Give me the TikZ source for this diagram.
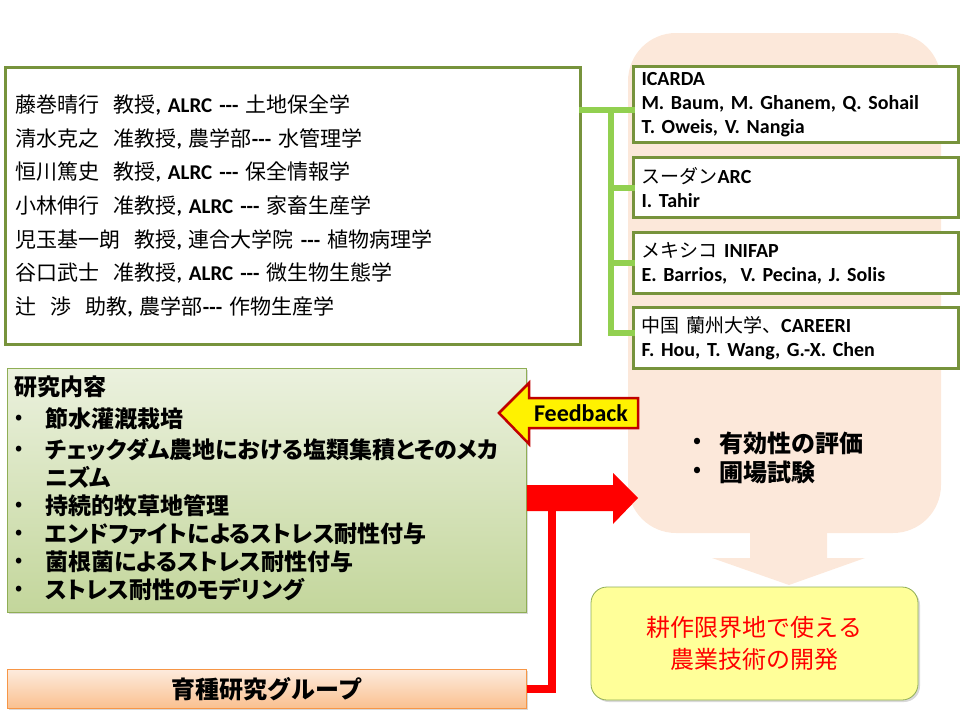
\documentclass[tikz,border=0pt]{standalone}
\usepackage{fontspec}
\setmainfont{Carlito}
\newfontfamily\jp{Noto Sans CJK JP}
\newfontfamily\jpp[RawFeature=+palt]{Noto Sans CJK JP}
\newfontfamily\calib{Carlito}
\usetikzlibrary{shadows,calc}
\definecolor{olive}{HTML}{77933C}
\definecolor{lgreen}{HTML}{92D050}
\definecolor{peach}{HTML}{FCE8DA}
\definecolor{rcTop}{HTML}{EBF1DE}
\definecolor{rcBot}{HTML}{C3D69B}
\definecolor{rcLine}{HTML}{8FAE55}
\definecolor{brTop}{HTML}{FDEBDD}
\definecolor{brBot}{HTML}{FAC08F}
\definecolor{brLine}{HTML}{F79646}
\definecolor{ylw}{HTML}{FFFF99}
\definecolor{dred}{HTML}{C00000}
\definecolor{pred}{HTML}{FF0000}
\newcommand\lt[1]{{\calib\bfseries #1}}
\newcommand\fsz[2]{\fontsize{#1}{#2}\selectfont}
\begin{document}
\begin{tikzpicture}[x=1pt,y=-1pt,
  gbox/.style={draw=olive, line width=3pt, fill=white, anchor=north west, align=left, inner xsep=10pt},
  gline/.style={draw=lgreen, line width=6pt, line cap=rect},
  shd/.style={drop shadow={shadow xshift=2pt, shadow yshift=-2pt, opacity=0.3}},
  txt/.style={anchor=west, inner sep=0pt},
]
\useasboundingbox (0,0) rectangle (960,720);
% peach background arrow
\fill[peach, rounded corners=48pt] (628,33) rectangle (941,533);
\fill[peach] (750,525) -- (827,525) -- (827,558) -- (865,558) -- (789,585) -- (712,558) -- (750,558) -- cycle;

% top-left box
\node[gbox, minimum width=575pt, minimum height=277pt, text width=555pt,
      font=\jp\fsz{21}{33.7}] (tl) at (4,66) {%
藤巻晴行\hspace{14pt}教授\lt{, ALRC -{}-{}- }土地保全学\\
清水克之\hspace{14pt}准教授\lt{, }農学部\lt{-{}-{}- }水管理学\\
恒川篤史\hspace{14pt}教授\lt{, ALRC -{}-{}- }保全情報学\\
小林伸行\hspace{14pt}准教授\lt{, ALRC -{}-{}- }家畜生産学\\
児玉基一朗\hspace{14pt}教授\lt{, }連合大学院\lt{ -{}-{}- }植物病理学\\
谷口武士\hspace{14pt}准教授\lt{, ALRC -{}-{}- }微生物生態学\\
辻\hspace{14pt}渉\hspace{14pt}助教\lt{, }農学部\lt{-{}-{}- }作物生産学};

% right boxes
\begin{scope}[every node/.style={gbox, inner xsep=8pt, minimum width=325pt, text width=309pt, font=\calib\bfseries\fsz{20}{24}}]
\node[minimum height=76pt] (b1) at (632,65) {ICARDA\\M. Baum, M. Ghanem, Q. Sohail\\T. Oweis, V. Nangia};
\node[minimum height=60pt] (b2) at (632,156) {{\jp\mdseries\fsz{19}{24}スーダン}ARC\\I. Tahir};
\node[minimum height=61pt] (b3) at (632,231) {{\jp\mdseries\fsz{19}{24}メキシコ} INIFAP\\E. Barrios,\ \ V. Pecina, J. Solis};
\node[minimum height=61pt] (b4) at (632,306) {{\jp\mdseries\fsz{19}{24}中国 蘭州大学、}CAREERI\\F. Hou, T. Wang, G.-X. Chen};
\end{scope}

% green connectors
\coordinate (j1) at (611,110);
\coordinate (j4) at (611,333);
\draw[gline] (tl.east |- j1) -- (b1.west |- j1);
\draw[gline] (j1) -- (j4);
\draw[gline] (j1 |- b2.west) -- (b2.west);
\draw[gline] (j1 |- b3.west) -- (b3.west);
\draw[gline] (j4) -- (b4.west |- j4);

% research content box
\node[shd, draw=rcLine, line width=0.8pt, top color=rcTop, bottom color=rcBot, anchor=north west,
      minimum width=519pt, minimum height=244pt] (rc) at (7,368) {};
\begin{scope}[every node/.style={txt, font=\jpp\bfseries\fsz{23}{24}}]
\node[font=\jpp\bfseries\fsz{23}{26}] (r0) at (14,387) {研究内容};
\foreach \y/\t [count=\i] in {419/節水灌漑栽培, 450/チェックダム農地における塩類集積とそのメカ,
   506/持続的牧草地管理, 534/エンドファイトによるストレス耐性付与,
   562/菌根菌によるストレス耐性付与, 590/ストレス耐性のモデリング}{
  \node[font=\jp\bfseries\fsz{18}{20}] (rb\i) at (15,\y) {•};
  \node (r\i) at (45,\y) {\t};
}
\node (r2b) at (45,477) {ニズム};
\end{scope}

% feedback arrow
\draw[dred, line width=2.5pt, fill=yellow, line join=miter]
  (499,413) -- (529,383) -- (529,398) -- (638,398) -- (638,428) -- (529,428) -- (529,444) -- cycle;
\node[inner sep=0pt, font=\calib\bfseries\fsz{24}{26}] (fb) at (581,413) {Feedback};

% breeding group box
\node[shd, draw=brLine, line width=0.8pt, top color=brTop, bottom color=brBot, anchor=north west,
      minimum width=519pt, minimum height=39pt, font=\jp\bfseries\fsz{24}{26}] (br) at (7,669) {育種研究グループ};

% red arrows
\fill[pred] (rc.east |- 0,485) -- (613,485) -- (613,473) -- (638,498) -- (613,524) -- (613,511) -- (rc.east |- 0,511) -- cycle;
\draw[pred, line width=8pt, line join=miter] (br.east) -| (552,485);

% peach texts
\begin{scope}[every node/.style={txt, font=\jp\bfseries\fsz{24}{26}}]
\node[font=\jp\bfseries\fsz{20}{22}] (p1b) at (693,443) {•};
\node (p1) at (719,443) {有効性の評価};
\node[font=\jp\bfseries\fsz{20}{22}] (p2b) at (693,472) {•};
\node (p2) at (719,472) {圃場試験};
\end{scope}

% result box
\node[shd, draw=rcLine, line width=0.8pt, fill=ylw, rounded corners=16pt,
      minimum width=327pt, minimum height=113pt, align=center, text=pred,
      font=\jp\fsz{24}{32}] (yb) at (754.5,643.5) {耕作限界地で使える\\農業技術の開発};
\end{tikzpicture}
\end{document}
